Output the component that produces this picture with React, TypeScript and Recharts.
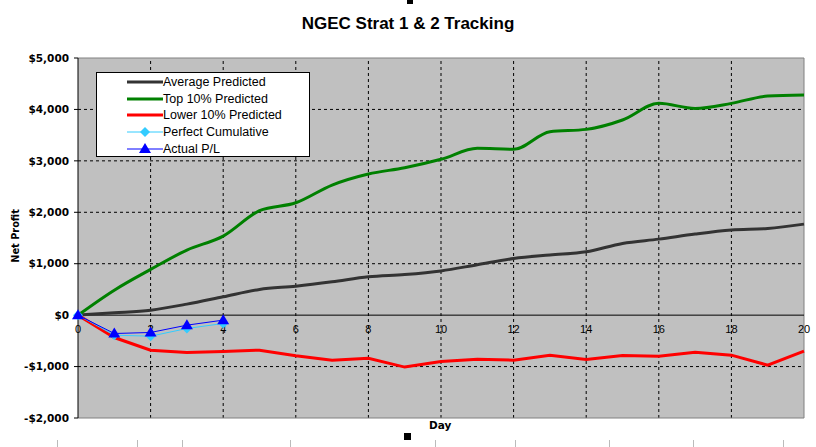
import React from 'react';
import {
  ComposedChart,
  Line,
  Scatter,
  XAxis,
  YAxis,
  CartesianGrid,
  ReferenceLine,
  Legend,
} from 'recharts';

const days = [0, 1, 2, 3, 4, 5, 6, 7, 8, 9, 10, 11, 12, 13, 14, 15, 16, 17, 18, 19, 20];
const averagePredicted = [0, 45, 97, 214, 357, 500, 564, 648, 746, 790, 860, 980, 1100, 1170, 1232, 1395, 1478, 1576, 1654, 1686, 1770];
const top10Predicted = [0, 486, 889, 1265, 1537, 2030, 2185, 2530, 2745, 2866, 3030, 3243, 3224, 3567, 3612, 3794, 4118, 4020, 4118, 4260, 4280];
const lower10Predicted = [0, -435, -681, -726, -707, -681, -791, -875, -840, -1010, -901, -856, -875, -778, -863, -785, -798, -720, -778, -973, -700];
const perfectCumulative = [0, -390, -409, -260, -162];
const actualPL = [0, -357, -337, -195, -97];

const xTicks = [0, 2, 4, 6, 8, 10, 12, 14, 16, 18, 20];
const yTicks = [-2000, -1000, 0, 1000, 2000, 3000, 4000, 5000];
const hGrid = [-1000, 1000, 2000, 3000, 4000];
const vGrid = [2, 4, 6, 8, 10, 12, 14, 16, 18];
const pageMarks = [57, 137, 182, 290, 435, 515, 609, 693, 783];

const series = [
  { key: 'avg', name: 'Average Predicted', color: '#333333', width: 3, marker: 'none' },
  { key: 'top', name: 'Top 10% Predicted', color: '#008000', width: 3, marker: 'none' },
  { key: 'low', name: 'Lower 10% Predicted', color: '#ff0000', width: 3, marker: 'none' },
  { key: 'perfect', name: 'Perfect Cumulative', color: '#33ccff', width: 1, marker: 'diamond' },
  { key: 'actual', name: 'Actual P/L', color: '#0000ff', width: 1, marker: 'triangle' },
];

const rows = days.map((day, i) => ({
  day,
  avg: averagePredicted[i],
  top: top10Predicted[i],
  low: lower10Predicted[i],
  perfect: perfectCumulative[i],
  actual: actualPL[i],
}));

const tickRows = xTicks.map((day) => ({ day, zero: 0 }));

const money = (v: number) => (v < 0 ? '-$' : '$') + Math.abs(v).toLocaleString('en-US');

const Diamond = (props: any) => {
  const { cx, cy, key } = props;
  if (cx == null || cy == null || props.value == null) return <g key={key} />;
  return (
    <polygon
      key={key}
      points={`${cx},${cy - 5} ${cx + 5},${cy} ${cx},${cy + 5} ${cx - 5},${cy}`}
      fill="#33ccff"
    />
  );
};

const Triangle = (props: any) => {
  const { cx, cy, key } = props;
  if (cx == null || cy == null || props.value == null) return <g key={key} />;
  return (
    <polygon
      key={key}
      points={`${cx},${cy - 6} ${cx + 6},${cy + 4} ${cx - 6},${cy + 4}`}
      fill="#0000ff"
    />
  );
};

const DayTick = (props: any) => (
  <text
    x={props.cx}
    y={props.cy + 18}
    textAnchor="middle"
    fontFamily="Liberation Sans, Arial, sans-serif"
    fontSize={11}
    fill="#000"
  >
    {props.payload.day}
  </text>
);

const LegendBox = () => (
  <div
    style={{
      background: '#fff',
      border: '1px solid #000',
      width: 214,
      height: 85,
      boxSizing: 'border-box',
      paddingTop: 1,
      fontFamily: 'Liberation Sans, Arial, sans-serif',
      fontSize: 12.5,
      color: '#000',
    }}
  >
    {series.map((s) => (
      <div key={s.key} style={{ display: 'flex', alignItems: 'center', height: 16.6 }}>
        <svg width={66} height={14} style={{ flex: 'none' }}>
          <line x1={30} y1={7} x2={66} y2={7} stroke={s.color} strokeWidth={s.width} />
          {s.marker === 'diamond' && <polygon points="48,2 53,7 48,12 43,7" fill="#33ccff" />}
          {s.marker === 'triangle' && <polygon points="48,1 54,11 42,11" fill="#0000ff" />}
        </svg>
        <span style={{ lineHeight: '14px' }}>{s.name}</span>
      </div>
    ))}
  </div>
);

export default function App() {
  return (
    <div
      style={{
        position: 'absolute',
        left: 0,
        top: 0,
        width: 816,
        height: 447,
        background: '#fff',
        overflow: 'hidden',
      }}
    >
      <div
        style={{
          position: 'absolute',
          left: 0,
          width: 816,
          top: 14,
          textAlign: 'center',
          fontFamily: 'Liberation Sans, Arial, sans-serif',
          fontWeight: 'bold',
          fontSize: 17,
        }}
      >
        NGEC Strat 1 &amp; 2 Tracking
      </div>
      <div style={{ position: 'absolute', left: 407, top: 0, width: 6, height: 4, background: '#000' }} />
      <div style={{ position: 'absolute', left: 404, top: 433, width: 7, height: 7, background: '#000' }} />
      {pageMarks.map((x) => (
        <div key={x} style={{ position: 'absolute', left: x, top: 440, width: 1, height: 7, background: '#bbb' }} />
      ))}
      <div
        style={{
          position: 'absolute',
          left: 429,
          top: 419,
          fontFamily: 'DejaVu Sans, sans-serif',
          fontWeight: 'bold',
          fontSize: 10.5,
        }}
      >
        Day
      </div>
      <div
        style={{
          position: 'absolute',
          left: 15,
          top: 236,
          transform: 'translate(-50%, -50%) rotate(-90deg)',
          whiteSpace: 'nowrap',
          fontFamily: 'DejaVu Sans, sans-serif',
          fontWeight: 'bold',
          fontSize: 9.8,
        }}
      >
        Net Profit
      </div>
      <ComposedChart
        width={816}
        height={447}
        data={rows}
        margin={{ top: 58, right: 12, bottom: 29, left: 18 }}
        style={{ position: 'absolute', left: 0, top: 0 }}
      >
        <CartesianGrid fill="#c0c0c0" stroke="none" horizontal={false} vertical={false} />
        <XAxis
          dataKey="day"
          type="number"
          domain={[0, 20]}
          ticks={xTicks}
          height={0}
          tick={false}
          axisLine={false}
          tickLine={false}
        />
        <YAxis
          type="number"
          domain={[-2000, 5000]}
          ticks={yTicks}
          width={60}
          interval={0}
          tickSize={4}
          tickMargin={5}
          tickFormatter={money}
          tick={{ fontFamily: 'DejaVu Sans, sans-serif', fontWeight: 'bold', fontSize: 10.5, fill: '#000' }}
          axisLine={{ stroke: '#000' }}
          tickLine={{ stroke: '#000' }}
        />
        {hGrid.map((v) => (
          <ReferenceLine key={'h' + v} y={v} stroke="#000" strokeDasharray="3 3" />
        ))}
        {vGrid.map((v) => (
          <ReferenceLine key={'v' + v} x={v} stroke="#000" strokeDasharray="3 3" />
        ))}
        <ReferenceLine y={5000} stroke="#808080" />
        <ReferenceLine y={-2000} stroke="#808080" />
        <ReferenceLine x={20} stroke="#808080" />
        <ReferenceLine y={0} stroke="#000" />
        <Legend
          layout="vertical"
          align="center"
          verticalAlign="middle"
          wrapperStyle={{ left: 96, top: 72, width: 214 }}
          content={LegendBox}
        />
        <Line
          dataKey="avg"
          name="Average Predicted"
          type="monotone"
          stroke="#333333"
          strokeWidth={3}
          dot={false}
          isAnimationActive={false}
        />
        <Line
          dataKey="top"
          name="Top 10% Predicted"
          type="monotone"
          stroke="#008000"
          strokeWidth={3}
          dot={false}
          isAnimationActive={false}
        />
        <Line
          dataKey="low"
          name="Lower 10% Predicted"
          type="linear"
          stroke="#ff0000"
          strokeWidth={3}
          dot={false}
          isAnimationActive={false}
        />
        <Line
          dataKey="perfect"
          name="Perfect Cumulative"
          type="linear"
          stroke="#33ccff"
          strokeWidth={1}
          dot={Diamond}
          activeDot={false}
          isAnimationActive={false}
        />
        <Line
          dataKey="actual"
          name="Actual P/L"
          type="linear"
          stroke="#0000ff"
          strokeWidth={1}
          dot={Triangle}
          activeDot={false}
          isAnimationActive={false}
        />
        <Scatter
          data={tickRows}
          dataKey="zero"
          shape={DayTick}
          legendType="none"
          isAnimationActive={false}
        />
      </ComposedChart>
    </div>
  );
}
